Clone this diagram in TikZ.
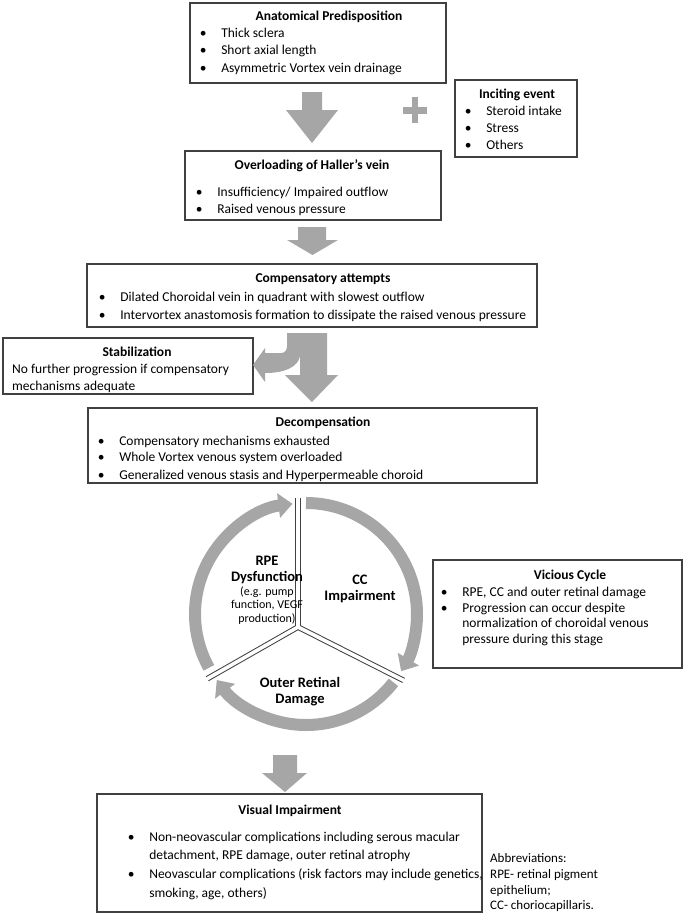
\documentclass[tikz,border=0pt]{standalone}
\usepackage{fontspec}
\setmainfont{Carlito}
\usetikzlibrary{arrows.meta}
\definecolor{boxc}{HTML}{404040}
\definecolor{arrc}{HTML}{A6A6A6}
\tikzset{
  box/.style={draw=boxc, line width=1.3pt, rectangle, inner sep=0pt},
  txt/.style={inner sep=0pt, font=\fontsize{13.5}{16}\selectfont, anchor=base west},
  ttl/.style={inner sep=0pt, font=\bfseries\fontsize{13.5}{16}\selectfont, anchor=base},
  lbl/.style={inner sep=0pt, font=\bfseries\fontsize{14.5}{17}\selectfont, anchor=base},
  sml/.style={inner sep=0pt, font=\fontsize{12}{14}\selectfont, anchor=base},
  blk/.style={fill=arrc, draw=none},
  ring/.style={draw=arrc, line width=12pt, -{Triangle[width=24pt,length=14pt]}},
}
\newcommand{\bul}[1]{\makebox[21.5pt][l]{\textbullet}#1}
\begin{document}
\begin{tikzpicture}[x=1pt,y=-1pt]
\useasboundingbox (0,0) rectangle (685,916);
\fill[white] (0,0) rectangle (685,916);

% ---------- boxes ----------
\node[box, minimum width=256pt, minimum height=80pt] (b1) at (318,43) {};
\node[box, minimum width=122pt, minimum height=77pt] (inc) at (516,118.5) {};
\node[box, minimum width=256pt, minimum height=69pt] (b2) at (313,185.5) {};
\node[box, minimum width=450pt, minimum height=63pt] (b3) at (312,295.5) {};
\node[box, minimum width=250pt, minimum height=56pt] (stab) at (128,366) {};
\node[box, minimum width=449pt, minimum height=75pt] (b4) at (312.5,445.5) {};
\node[box, minimum width=249pt, minimum height=108pt] (vic) at (557.5,614) {};
\node[box, minimum width=385pt, minimum height=118pt] (vis) at (289.5,853) {};

% ---------- box 1 ----------
\node[ttl] (t1) at (329,20) {Anatomical Predisposition};
\node[txt] (l11) at (199.6,37) {\bul{Thick sclera}};
\node[txt] (l12) at (199.6,54.5) {\bul{Short axial length}};
\node[txt] (l13) at (199.6,72) {\bul{Asymmetric Vortex vein drainage}};

% ---------- inciting ----------
\node[ttl] (tinc) at (517,98) {Inciting event};
\node[txt] (linc1) at (464.6,115) {\bul{Steroid intake}};
\node[txt] (linc2) at (464.6,132) {\bul{Stress}};
\node[txt] (linc3) at (464.6,149) {\bul{Others}};

% ---------- box 2 ----------
\node[ttl] (t2) at (312,169) {Overloading of Haller’s vein};
\node[txt] (l21) at (195.6,196) {\bul{Insufficiency/ Impaired outflow}};
\node[txt] (l22) at (195.6,213) {\bul{Raised venous pressure}};

% ---------- box 3 ----------
\node[ttl] (t3) at (323,282) {Compensatory attempts};
\node[txt] (l31) at (98.6,301) {\bul{Dilated Choroidal vein in quadrant with slowest outflow}};
\node[txt] (l32) at (98.6,319) {\bul{Intervortex anastomosis formation to dissipate the raised venous pressure}};

% ---------- stabilization ----------
\node[ttl] (tst) at (137,356) {Stabilization};
\node[txt] (lst1) at (12,373) {No further progression if compensatory};
\node[txt] (lst2) at (12,390) {mechanisms adequate};

% ---------- box 4 ----------
\node[ttl] (t4) at (323,426) {Decompensation};
\node[txt] (l41) at (97.6,445) {\bul{Compensatory mechanisms exhausted}};
\node[txt] (l42) at (97.6,461.5) {\bul{Whole Vortex venous system overloaded}};
\node[txt] (l43) at (97.6,479) {\bul{Generalized venous stasis and Hyperpermeable choroid}};

% ---------- vicious cycle ----------
\node[ttl] (tvic) at (570,579) {Vicious Cycle};
\node[txt] (lv1) at (440.6,596) {\bul{RPE, CC and outer retinal damage}};
\node[txt] (lv2) at (440.6,612) {\bul{Progression can occur despite}};
\node[txt] (lv3) at (462.1,627.5) {normalization of choroidal venous};
\node[txt] (lv4) at (462.1,643) {pressure during this stage};

% ---------- visual impairment ----------
\node[ttl] (tvis) at (290,814) {Visual Impairment};
\node[txt] (lvi1) at (127.6,841) {\bul{Non-neovascular complications including serous macular}};
\node[txt] (lvi2) at (149.1,859) {detachment, RPE damage, outer retinal atrophy};
\node[txt] (lvi3) at (127.6,878) {\bul{Neovascular complications (risk factors may include genetics,}};
\node[txt] (lvi4) at (149.1,897) {smoking, age, others)};

% ---------- abbreviations ----------
\node[txt, font=\fontsize{13}{15}\selectfont] (ab1) at (490,862) {Abbreviations:};
\node[txt, font=\fontsize{13}{15}\selectfont] (ab2) at (490,878) {RPE- retinal pigment};
\node[txt, font=\fontsize{13}{15}\selectfont] (ab3) at (490,894) {epithelium;};
\node[txt, font=\fontsize{13}{15}\selectfont] (ab4) at (490,909) {CC- choriocapillaris.};

% ---------- block arrows ----------
\fill[blk] (302,92) -- (322,92) -- (322,110) -- (338,110) -- (312,143) -- (286,110) -- (302,110) -- cycle;
\fill[blk] (403,107) rectangle (427,114);
\fill[blk] (412,97) rectangle (418,123);
\fill[blk] (298,227) -- (326,227) -- (326,240) -- (338,240) -- (312.5,255) -- (287,240) -- (298,240) -- cycle;
% split arrow
\fill[blk] (287,333) -- (327,333) -- (327,375) -- (338,375) -- (312,402) -- (285,375) -- (300,375) -- (300,353) -- (287,353) -- cycle;
\fill[blk] (287,340) -- (300,340) -- (300,356) .. controls (298,367) and (285,373) .. (265,373)
  -- (265,382) -- (253,365) -- (265,348) -- (265,353) -- (281,353)
  .. controls (285,353) and (287,350) .. (287,346) -- cycle;
\fill[blk] (273,755) -- (297,755) -- (297,773) -- (307,773) -- (285,792) -- (262,773) -- (273,773) -- cycle;

% ---------- cycle ----------
\coordinate (cc) at (306,614);
\coordinate (j) at (298,627);
\coordinate (dtop) at (298,498);
\coordinate (dll) at (207.3,678.7);
\coordinate (dlr) at (403.6,680.4);
\draw[boxc, line width=5.6pt] (dtop) -- (j) (j) -- (dll) (j) -- (dlr);
\draw[white, line width=3.6pt, line cap=round] (dtop) -- (j) (j) -- (dll) (j) -- (dlr);
\draw[ring] ([shift={(-209:111)}]cc) arc[start angle=-209, end angle=-97, radius=111];
\draw[ring] ([shift={(-90:111)}]cc) arc[start angle=-90, end angle=31, radius=111];
\draw[ring] ([shift={(38:111)}]cc) arc[start angle=38, end angle=143.5, radius=111];

\node[lbl] (rpe1) at (267,565) {RPE};
\node[lbl] (rpe2) at (267,581) {Dysfunction};
\node[sml] (rpe3) at (267,595) {(e.g. pump};
\node[sml] (rpe4) at (267,608.5) {function, VEGF};
\node[sml] (rpe5) at (267,622) {production)};
\node[lbl] (cc1) at (360,584.5) {CC};
\node[lbl] (cc2) at (360,600.5) {Impairment};
\node[lbl] (or1) at (300,687) {Outer Retinal};
\node[lbl] (or2) at (300,703) {Damage};
\end{tikzpicture}
\end{document}
